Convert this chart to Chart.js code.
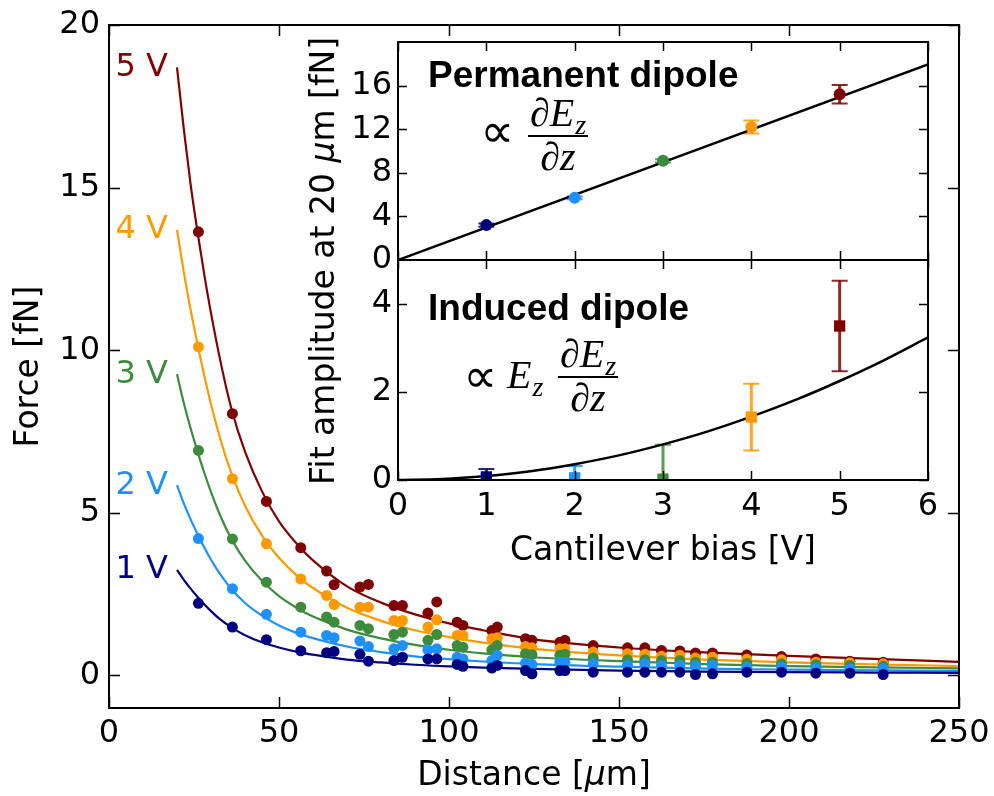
<!DOCTYPE html>
<html>
<head>
<meta charset="utf-8">
<title>Force versus distance</title>
<script src="https://cdn.jsdelivr.net/npm/chart.js@4.4.0/dist/chart.umd.min.js"></script>
<style>
  html, body { margin: 0; padding: 0; background: #ffffff; }
  #figure { position: relative; width: 994px; height: 796px; overflow: hidden; }
  #figure canvas { position: absolute; }
</style>
</head>
<body>
<div id="figure">
  <canvas id="mainChart" width="1034" height="836" style="left:-20px;top:-20px"></canvas>
  <canvas id="permChart" width="700" height="290" style="left:280px;top:0px"></canvas>
  <canvas id="indChart" width="700" height="360" style="left:280px;top:230px"></canvas>
</div>
<script>
// ---------- measured force curves ----------
const voltages = ['1 V', '2 V', '3 V', '4 V', '5 V'];
const seriesColors = ['#000080', '#1e90ff', '#3d8b3d', '#ff9900', '#800000'];

const distance = [26.3, 36.3, 46.3, 56.4, 64.0, 66.2, 73.8, 76.3, 83.8, 86.3, 93.8, 96.4,
  102.4, 104.1, 112.6, 114.2, 122.5, 124.4, 132.6, 134.1, 142.4, 152.5, 157.6, 162.5,
  167.9, 172.5, 177.5, 187.6, 197.8, 207.9, 217.9, 227.7];

const force1V = [2.22, 1.49, 1.10, 0.76, 0.70, 0.74, 0.65, 0.44, 0.46, 0.56, 0.51, 0.51,
  0.34, 0.28, 0.23, 0.31, 0.15, 0.05, 0.15, 0.15, 0.10, 0.10, 0.10, 0.10,
  0.10, 0.03, 0.05, 0.10, 0.10, 0.07, 0.07, 0.03];
const force2V = [4.21, 2.67, 1.88, 1.33, 1.23, 1.16, 1.06, 0.89, 0.82, 0.92, 0.79, 0.82,
  0.56, 0.51, 0.46, 0.62, 0.38, 0.34, 0.41, 0.41, 0.36, 0.31, 0.36, 0.31,
  0.31, 0.28, 0.31, 0.25, 0.26, 0.23, 0.21, 0.21];
const force3V = [6.92, 4.20, 2.87, 2.10, 1.80, 1.64, 1.54, 1.44, 1.26, 1.33, 1.08, 1.26,
  0.92, 0.87, 0.79, 0.92, 0.67, 0.64, 0.62, 0.65, 0.54, 0.48, 0.48, 0.46,
  0.46, 0.41, 0.41, 0.37, 0.36, 0.33, 0.31, 0.28];
const force4V = [10.10, 6.05, 4.05, 2.97, 2.46, 2.18, 2.10, 2.10, 1.69, 1.69, 1.49, 1.71,
  1.23, 1.23, 1.13, 1.16, 0.89, 0.85, 0.82, 0.82, 0.72, 0.67, 0.65, 0.59,
  0.62, 0.54, 0.56, 0.50, 0.48, 0.41, 0.39, 0.36];
const force5V = [13.64, 8.05, 5.35, 3.93, 3.21, 2.79, 2.72, 2.80, 2.15, 2.15, 1.92, 2.26,
  1.64, 1.54, 1.38, 1.49, 1.13, 1.08, 1.02, 1.08, 0.92, 0.85, 0.85, 0.77,
  0.75, 0.69, 0.69, 0.63, 0.58, 0.51, 0.44, 0.41];

// fitted curves, sampled from 20 um outwards
const fitDistance = [20, 22, 24, 26, 28, 30, 33, 36, 40, 45, 50, 56, 60, 70, 80, 90,
  100, 110, 125, 150, 175, 200, 225, 250];
const fit1V = [3.25, 2.94, 2.67, 2.42, 2.19, 1.98, 1.70, 1.48, 1.24, 1.02, 0.86, 0.71,
  0.64, 0.49, 0.40, 0.33, 0.28, 0.24, 0.20, 0.15, 0.12, 0.10, 0.09, 0.08];
const fit2V = [5.85, 5.29, 4.80, 4.36, 3.94, 3.56, 3.07, 2.66, 2.23, 1.84, 1.54, 1.28,
  1.15, 0.89, 0.72, 0.59, 0.50, 0.43, 0.35, 0.27, 0.21, 0.18, 0.16, 0.14];
const fit3V = [9.26, 8.38, 7.60, 6.90, 6.24, 5.64, 4.85, 4.20, 3.53, 2.91, 2.44, 2.03,
  1.81, 1.41, 1.14, 0.94, 0.79, 0.68, 0.56, 0.44, 0.35, 0.29, 0.25, 0.22];
const fit4V = [13.7, 12.4, 11.25, 10.21, 9.23, 8.34, 7.18, 6.22, 5.22, 4.30, 3.62, 3.00,
  2.69, 2.08, 1.68, 1.39, 1.18, 1.01, 0.82, 0.62, 0.49, 0.40, 0.34, 0.29];
const fit5V = [18.7, 16.8, 15.1, 13.66, 12.34, 11.14, 9.55, 8.20, 6.88, 5.66, 4.74, 3.96,
  3.54, 2.74, 2.24, 1.88, 1.60, 1.39, 1.11, 0.86, 0.71, 0.60, 0.51, 0.42];

const distanceTicks = [0, 50, 100, 150, 200, 250];
const forceTicks = [0, 5, 10, 15, 20];

// ---------- fit amplitudes at 20 um versus bias ----------
const bias = [1, 2, 3, 4, 5];
const permanentAmp = [3.2, 5.7, 9.1, 12.2, 15.2];
const permanentErr = [0.15, 0.12, 0.15, 0.6, 0.85];
const inducedAmp = [0.07, 0.05, 0.02, 1.43, 3.5];
const inducedErr = [0.18, 0.27, 0.78, 0.76, 1.03];

const permanentFitBias = [0, 6];
const permanentFit = [0, 17.95];
const inducedFitBias = [0, 0.5, 1, 1.5, 2, 2.5, 3, 3.5, 4, 4.5, 5, 5.5, 6];
const inducedFit = [0, 0.02, 0.09, 0.2, 0.36, 0.56, 0.81, 1.1, 1.44, 1.82, 2.25, 2.72, 3.24];

const biasTicks = [0, 1, 2, 3, 4, 5, 6];
const permanentTicks = [0, 4, 8, 12, 16];
const inducedTicks = [0, 2, 4];

// ---------- shared styling ----------
const SANS = '"DejaVu Sans", sans-serif';
const MATH = '"Liberation Serif", "DejaVu Serif", serif';
const TITLE_SIZE = 33;
Chart.defaults.font.family = SANS;
Chart.defaults.font.size = 32;
Chart.defaults.color = '#000';
Chart.defaults.animation = false;

const toPoints = (xs, ys) => xs.map((x, i) => ({ x: x, y: ys[i] }));
const fixedTicks = arr => (axis => { axis.ticks = arr.map(v => ({ value: v })); });

function axisOptions(min, max, ticks, extra) {
  return Object.assign({
    type: 'linear', min: min, max: max,
    grid: { display: false, drawTicks: false },
    border: { display: false },
    ticks: { autoSkip: false, maxRotation: 0, minRotation: 0, font: { size: 32 } },
    afterBuildTicks: fixedTicks(ticks)
  }, extra);
}

// box around the plotting area, with inward ticks on all four sides
function framePlugin(tickLen, whiteFill) {
  return {
    id: 'frame',
    beforeDraw(chart) {
      if (!whiteFill) return;
      const a = chart.chartArea, ctx = chart.ctx;
      ctx.save();
      ctx.fillStyle = '#ffffff';
      ctx.fillRect(a.left, a.top, a.right - a.left, a.bottom - a.top);
      ctx.restore();
    },
    afterDraw(chart) {
      const { ctx, chartArea: a, scales } = chart;
      ctx.save();
      ctx.strokeStyle = '#000';
      ctx.lineWidth = 1.5;
      ctx.beginPath();
      scales.x.ticks.forEach(t => {
        const px = Math.round(scales.x.getPixelForValue(t.value)) + 0.5;
        ctx.moveTo(px, a.bottom); ctx.lineTo(px, a.bottom - tickLen);
        ctx.moveTo(px, a.top); ctx.lineTo(px, a.top + tickLen);
      });
      scales.y.ticks.forEach(t => {
        const py = Math.round(scales.y.getPixelForValue(t.value)) + 0.5;
        ctx.moveTo(a.left, py); ctx.lineTo(a.left + tickLen, py);
        ctx.moveTo(a.right, py); ctx.lineTo(a.right - tickLen, py);
      });
      ctx.stroke();
      ctx.lineWidth = 2;
      ctx.strokeRect(a.left, a.top, a.right - a.left, a.bottom - a.top);
      ctx.restore();
    }
  };
}

// vertical error bars with caps, drawn underneath the markers
function errorBarPlugin(xs, ys, errs, colors) {
  return {
    id: 'errorBars',
    beforeDatasetsDraw(chart) {
      const { ctx, chartArea: a, scales: { x, y } } = chart;
      ctx.save();
      ctx.beginPath();
      ctx.rect(a.left, a.top, a.right - a.left, a.bottom - a.top);
      ctx.clip();
      ctx.globalAlpha = 0.85;
      xs.forEach((xv, i) => {
        const px = x.getPixelForValue(xv);
        const hi = y.getPixelForValue(ys[i] + errs[i]);
        const lo = y.getPixelForValue(ys[i] - errs[i]);
        ctx.strokeStyle = colors[i];
        ctx.lineWidth = 3;
        ctx.beginPath(); ctx.moveTo(px, hi); ctx.lineTo(px, lo); ctx.stroke();
        ctx.lineWidth = 2;
        ctx.beginPath();
        ctx.moveTo(px - 8, hi); ctx.lineTo(px + 8, hi);
        ctx.moveTo(px - 8, lo); ctx.lineTo(px + 8, lo);
        ctx.stroke();
      });
      ctx.restore();
    }
  };
}

// text made of runs in different fonts, centred on (cx, cy)
function drawRuns(ctx, runs, cx, cy, angle) {
  ctx.save();
  ctx.translate(cx, cy);
  if (angle) ctx.rotate(angle);
  ctx.textBaseline = 'middle';
  ctx.textAlign = 'left';
  ctx.fillStyle = '#000';
  let total = 0;
  runs.forEach(r => { ctx.font = r.font; r.w = ctx.measureText(r.text).width; total += r.w; });
  let x = -total / 2;
  runs.forEach(r => { ctx.font = r.font; ctx.fillText(r.text, x, 0); x += r.w; });
  ctx.restore();
}

function mathRun(ctx, text, x, baseline, size, italic) {
  ctx.font = (italic === false ? '' : 'italic ') + size + 'px ' + MATH;
  ctx.fillText(text, x, baseline);
  return ctx.measureText(text).width;
}

// proportional-to sign, 25 px wide, vertically centred on cy
function propTo(ctx, left, cy) {
  ctx.save();
  ctx.font = '40px "DejaVu Sans", sans-serif';
  const m = ctx.measureText('\u221d');
  const w = m.actualBoundingBoxRight + m.actualBoundingBoxLeft;
  const h = m.actualBoundingBoxAscent + m.actualBoundingBoxDescent;
  const s = 25 / Math.max(w, 1);
  ctx.translate(left, cy);
  ctx.scale(s, s);
  ctx.textBaseline = 'alphabetic';
  ctx.fillText('\u221d', m.actualBoundingBoxLeft, m.actualBoundingBoxAscent - h / 2);
  ctx.restore();
}

const MATH_SIZE = 40;

// "dE_z" in math style; returns its width
function partialEz(ctx, left, baseline, size, measureOnly) {
  const save = ctx.fillStyle;
  if (measureOnly) ctx.fillStyle = 'rgba(0,0,0,0)';
  let x = left;
  x += mathRun(ctx, '\u2202', x, baseline, size);
  x += mathRun(ctx, 'E', x, baseline, size);
  x += 1;
  x += mathRun(ctx, 'z', x, baseline + size * 0.2, size * 0.7);
  ctx.fillStyle = save;
  return x - left;
}

// fraction dE_z / dz centred on cx, with its bar at barY
function derivative(ctx, cx, barY, size) {
  const w = partialEz(ctx, 0, -1000, size, true);
  partialEz(ctx, cx - w / 2, barY - 10, size);
  ctx.fillRect(cx - w / 2 - 2, barY - 1, w + 4, 2);
  ctx.font = 'italic ' + size + 'px ' + MATH;
  const dw = ctx.measureText('\u2202z').width;
  ctx.fillText('\u2202z', cx - dw / 2, barY + 34);
}

// ---------- main chart ----------
const forces = [force1V, force2V, force3V, force4V, force5V];
const fits = [fit1V, fit2V, fit3V, fit4V, fit5V];

const mainDatasets = [];
forces.forEach((f, i) => mainDatasets.push({
  label: voltages[i] + ' measured',
  data: toPoints(distance, f),
  showLine: false,
  pointRadius: 5.5,
  pointHoverRadius: 5.5,
  pointBorderWidth: 0,
  pointBackgroundColor: seriesColors[i],
  borderColor: seriesColors[i]
}));
fits.forEach((f, i) => mainDatasets.push({
  label: voltages[i] + ' fit',
  data: toPoints(fitDistance, f),
  showLine: true,
  borderColor: seriesColors[i],
  borderWidth: 2.2,
  pointRadius: 0,
  cubicInterpolationMode: 'monotone',
  fill: false
}));

// main canvas sits 20 px up and left of the page origin
const MAIN_SHIFT = 20;

const mainDecor = {
  id: 'mainDecor',
  afterDraw(chart) {
    const { ctx, scales: { x, y } } = chart;
    ctx.save();
    ctx.font = '32px ' + SANS;
    ctx.textAlign = 'right';
    ctx.textBaseline = 'middle';
    fits.forEach((f, i) => {
      ctx.fillStyle = seriesColors[i];
      ctx.fillText(voltages[i], x.getPixelForValue(fitDistance[0]) - 9, y.getPixelForValue(f[0]));
    });
    ctx.restore();
    const a = chart.chartArea;
    drawRuns(ctx, [
      { text: 'Distance [', font: TITLE_SIZE + 'px ' + SANS },
      { text: '\u03bc', font: 'italic ' + TITLE_SIZE + 'px ' + SANS },
      { text: 'm]', font: TITLE_SIZE + 'px ' + SANS }
    ], (a.left + a.right) / 2, 776 + MAIN_SHIFT, 0);
    drawRuns(ctx, [
      { text: 'Fit amplitude at 20 ', font: TITLE_SIZE + 'px ' + SANS },
      { text: '\u03bc', font: 'italic ' + TITLE_SIZE + 'px ' + SANS },
      { text: 'm [fN]', font: TITLE_SIZE + 'px ' + SANS }
    ], 325 + MAIN_SHIFT, 261 + MAIN_SHIFT, -Math.PI / 2);
  }
};

new Chart(document.getElementById('mainChart'), {
  type: 'scatter',
  data: { datasets: mainDatasets },
  options: {
    responsive: false,
    animation: false,
    layout: { padding: { left: 20, right: 55, top: 45, bottom: 20 } },
    plugins: { legend: { display: false }, tooltip: { enabled: false } },
    scales: {
      x: axisOptions(0, 250, distanceTicks, {
        afterFit: s => { s.height = 88; },
        ticks: { autoSkip: false, maxRotation: 0, minRotation: 0, padding: 6, font: { size: 32 } }
      }),
      y: axisOptions(-1, 20, forceTicks, {
        afterFit: s => { s.width = 109; },
        ticks: { autoSkip: false, padding: 9, font: { size: 32 } },
        title: { display: true, text: 'Force [fN]', font: { size: TITLE_SIZE }, padding: { top: 10, bottom: 0 } }
      })
    }
  },
  plugins: [framePlugin(11, false), mainDecor]
});

// ---------- inset, upper panel: permanent dipole ----------
const permDecor = {
  id: 'permDecor',
  afterDraw(chart) {
    const ctx = chart.ctx;
    ctx.save();
    ctx.translate(-280, 0);
    ctx.fillStyle = '#000';
    ctx.font = 'bold 37px "Liberation Sans", Arial, sans-serif';
    ctx.textAlign = 'left';
    ctx.textBaseline = 'alphabetic';
    ctx.fillText('Permanent dipole', 428, 87);
    propTo(ctx, 485, 133);
    derivative(ctx, 558, 136, MATH_SIZE);
    ctx.restore();
  }
};

new Chart(document.getElementById('permChart'), {
  type: 'scatter',
  data: {
    datasets: [
      {
        label: 'Permanent dipole amplitude',
        data: toPoints(bias, permanentAmp),
        showLine: false,
        pointRadius: 6,
        pointHoverRadius: 6,
        pointBorderWidth: 0,
        pointBackgroundColor: seriesColors,
        clip: 0
      },
      {
        label: 'Linear fit',
        data: toPoints(permanentFitBias, permanentFit),
        showLine: true,
        borderColor: '#000',
        borderWidth: 2.5,
        pointRadius: 0
      }
    ]
  },
  options: {
    responsive: false,
    animation: false,
    layout: { padding: { left: 0, right: 52, top: 42, bottom: 10 } },
    plugins: { legend: { display: false }, tooltip: { enabled: false } },
    scales: {
      x: axisOptions(0, 6, biasTicks, {
        afterFit: s => { s.height = 20; },
        ticks: { display: false }
      }),
      y: axisOptions(0, 20, permanentTicks, {
        afterFit: s => { s.width = 118; },
        ticks: { autoSkip: false, padding: 6, font: { size: 32 } }
      })
    }
  },
  plugins: [framePlugin(9, true), errorBarPlugin(bias, permanentAmp, permanentErr, seriesColors), permDecor]
});

// ---------- inset, lower panel: induced dipole ----------
const indDecor = {
  id: 'indDecor',
  afterDraw(chart) {
    const ctx = chart.ctx;
    ctx.save();
    ctx.translate(-280, -230);
    ctx.fillStyle = '#000';
    ctx.font = 'bold 37px "Liberation Sans", Arial, sans-serif';
    ctx.textAlign = 'left';
    ctx.textBaseline = 'alphabetic';
    ctx.fillText('Induced dipole', 428, 320);
    propTo(ctx, 468, 378);
    let x = 507;
    x += mathRun(ctx, 'E', x, 388, MATH_SIZE);
    mathRun(ctx, 'z', x + 1, 388 + MATH_SIZE * 0.2, MATH_SIZE * 0.7);
    derivative(ctx, 588, 377, MATH_SIZE);
    ctx.restore();
  }
};

new Chart(document.getElementById('indChart'), {
  type: 'scatter',
  data: {
    datasets: [
      {
        label: 'Induced dipole amplitude',
        data: toPoints(bias, inducedAmp),
        showLine: false,
        pointStyle: 'rect',
        pointRadius: 8,
        pointHoverRadius: 8,
        pointBorderWidth: 0,
        pointBackgroundColor: seriesColors,
        clip: 0
      },
      {
        label: 'Quadratic fit',
        data: toPoints(inducedFitBias, inducedFit),
        showLine: true,
        borderColor: '#000',
        borderWidth: 2.5,
        pointRadius: 0,
        cubicInterpolationMode: 'monotone'
      }
    ]
  },
  options: {
    responsive: false,
    animation: false,
    layout: { padding: { left: 0, right: 52, top: 30, bottom: 12 } },
    plugins: { legend: { display: false }, tooltip: { enabled: false } },
    scales: {
      x: axisOptions(0, 6, biasTicks, {
        afterFit: s => { s.height = 98; },
        ticks: { autoSkip: false, maxRotation: 0, minRotation: 0, padding: 7, font: { size: 32 } },
        title: { display: true, text: 'Cantilever bias [V]', font: { size: TITLE_SIZE }, padding: { top: 0, bottom: 7 } }
      }),
      y: axisOptions(0, 5, inducedTicks, {
        afterFit: s => { s.width = 118; },
        ticks: { autoSkip: false, padding: 6, font: { size: 32 } }
      })
    }
  },
  plugins: [framePlugin(9, true), errorBarPlugin(bias, inducedAmp, inducedErr, seriesColors), indDecor]
});
</script>
</body>
</html>
